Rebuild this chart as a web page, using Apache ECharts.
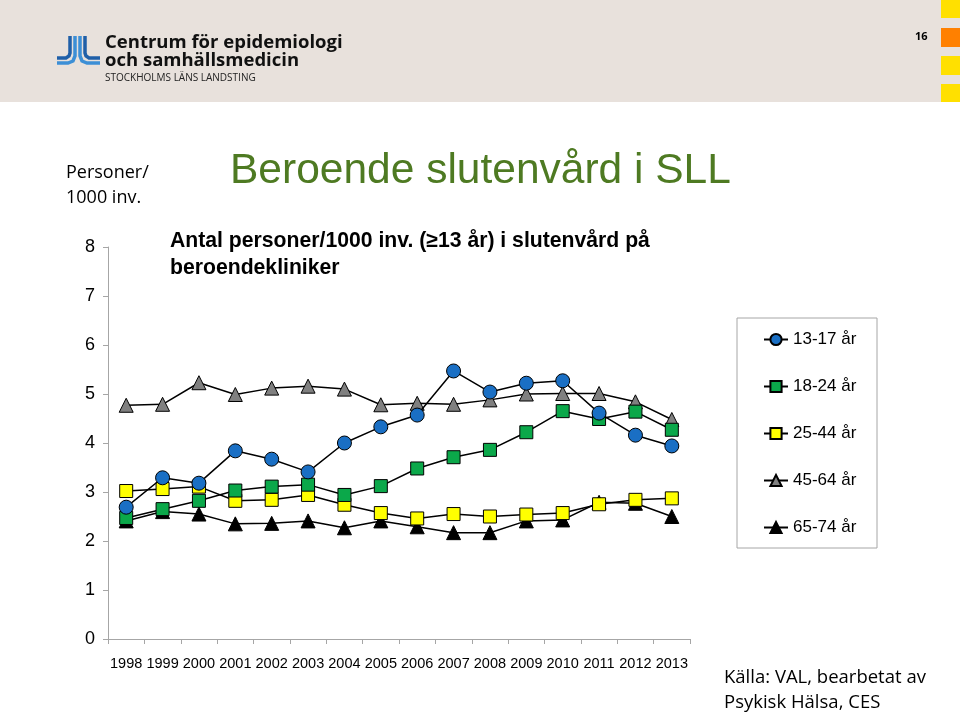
<!DOCTYPE html>
<html><head><meta charset="utf-8">
<script src="https://cdn.jsdelivr.net/npm/echarts@6/dist/echarts.min.js"></script>
<style>html,body{margin:0;padding:0;background:#fff}#c{width:960px;height:714px}</style>
</head><body><div id="c"></div>
<script>
const years = ['1998','1999','2000','2001','2002','2003','2004','2005','2006','2007','2008','2009','2010','2011','2012','2013'];
const seriesNames = ['13-17 år','18-24 år','25-44 år','45-64 år','65-74 år'];
const age13_17 = [2.69,3.29,3.18,3.84,3.67,3.41,4.00,4.33,4.57,5.47,5.04,5.22,5.27,4.61,4.16,3.94];
const age18_24 = [2.47,2.65,2.82,3.03,3.11,3.15,2.94,3.12,3.48,3.71,3.86,4.22,4.65,4.49,4.64,4.27];
const age25_44 = [3.02,3.06,3.11,2.82,2.84,2.94,2.74,2.57,2.46,2.55,2.50,2.54,2.57,2.75,2.84,2.87];
const age45_64 = [4.77,4.79,5.23,4.99,5.12,5.16,5.10,4.78,4.81,4.79,4.88,5.00,5.01,5.01,4.84,4.48];
const age65_74 = [2.41,2.60,2.55,2.35,2.36,2.41,2.27,2.41,2.29,2.17,2.17,2.41,2.43,2.79,2.77,2.50];
const yTicks = [0,1,2,3,4,5,6,7,8];

const chart = echarts.init(document.getElementById('c'), null, {renderer:'canvas'});
const dataSets = [age13_17, age18_24, age25_44, age45_64, age65_74];
const symbols = ['circle','rect','rect','triangle','triangle'];
const sizes = [14,13,13,14,14];
const fills = ['#1A6FC4','#0BA84A','#FFFF00','#808080','#000000'];
const series = dataSets.map((d,i)=>({
  name: seriesNames[i], type:'line', data:d, symbol:symbols[i], symbolSize:sizes[i],
  showAllSymbol:true, z: 10 - i,
  lineStyle:{color:'#000',width:1.5},
  itemStyle:{color:fills[i], borderColor:'#000', borderWidth:1},
  emphasis:{disabled:true}, animation:false
}));

const logoLines = [
  {p:[[70,36],[70,53],[69,56],[66,58],[57,58]], c:'#1F5FA8'},
  {p:[[75,36],[75,56],[73,61],[68,63],[57,63]], c:'#3C8FD6'},
  {p:[[80,36],[80,56],[82,61],[87,63],[100,63]], c:'#3C8FD6'},
  {p:[[85,36],[85,53],[86,56],[89,58],[100,58]], c:'#1F5FA8'}
];

chart.setOption({
  animation:false,
  backgroundColor:'#ffffff',
  grid:{left:108, right:270, top:247, bottom:75, containLabel:false},
  xAxis:{type:'category', data:years, boundaryGap:true,
    axisLine:{lineStyle:{color:'#A6A6A6', width:1}},
    axisTick:{show:true, length:5, lineStyle:{color:'#A6A6A6'}},
    axisLabel:{color:'#000', fontFamily:'Liberation Sans, Arial', fontSize:14.5, margin:17, interval:0}
  },
  yAxis:{type:'value', min:0, max:8, interval:1,
    axisLine:{show:true, lineStyle:{color:'#A6A6A6', width:1}},
    axisTick:{show:true, length:5, lineStyle:{color:'#A6A6A6'}},
    splitLine:{show:false},
    axisLabel:{color:'#000', fontFamily:'Liberation Sans, Arial', fontSize:18, margin:13,
      formatter:(v)=> yTicks.includes(v) ? String(v) : ''}
  },
  legend:{orient:'vertical', left:758, top:326, itemGap:30, itemWidth:24, itemHeight:14,
    data:seriesNames,
    textStyle:{color:'#000', fontSize:17, fontFamily:'Liberation Sans, Arial'},
    selectedMode:false},
  series:series,
  graphic:[
    {type:'rect', shape:{x:0,y:0,width:960,height:102}, style:{fill:'#E8E1DC'}, silent:true, z:-1},
    {type:'rect', shape:{x:941,y:0,width:19,height:18}, style:{fill:'#FFE000'}, silent:true},
    {type:'rect', shape:{x:941,y:28,width:19,height:19}, style:{fill:'#FF8000'}, silent:true},
    {type:'rect', shape:{x:941,y:56,width:19,height:19}, style:{fill:'#FFE000'}, silent:true},
    {type:'rect', shape:{x:941,y:84,width:19,height:18}, style:{fill:'#FFE000'}, silent:true},
    {type:'text', x:915, y:31, style:{text:'16', fill:'#000', font:'bold 11px "Open Sans", sans-serif'}},
    ...logoLines.map(l=>({type:'polyline', shape:{points:l.p}, style:{fill:null, stroke:l.c, lineWidth:3.5}, silent:true})),
    {type:'text', x:105, y:33, style:{text:'Centrum för epidemiologi', fill:'#111', font:'bold 18.5px "Open Sans", sans-serif'}},
    {type:'text', x:105, y:51, style:{text:'och samhällsmedicin', fill:'#111', font:'bold 18.5px "Open Sans", sans-serif'}},
    {type:'text', x:105, y:73, style:{text:'STOCKHOLMS LÄNS LANDSTING', fill:'#222', font:'10px "Open Sans", sans-serif'}},
    {type:'text', x:230, y:150, style:{text:'Beroende slutenvård i SLL', fill:'#4E7A22', font:'42.5px "Liberation Sans", Arial, sans-serif'}},
    {type:'text', x:66, y:160, style:{text:'Personer/\n1000 inv.', fill:'#000', font:'18px "Open Sans", sans-serif', lineHeight:25}},
    {type:'text', x:170, y:228, style:{text:'Antal personer/1000 inv. (≥13 år) i slutenvård på\nberoendekliniker', fill:'#000', font:'bold 21.2px "Liberation Sans", Arial, sans-serif', lineHeight:27}},
    {type:'rect', shape:{x:737,y:318,width:140,height:230}, style:{fill:null, stroke:'#A6A6A6', lineWidth:1}, silent:true},
    {type:'text', x:724, y:665, style:{text:'Källa: VAL, bearbetat av\nPsykisk Hälsa, CES', fill:'#000', font:'18.5px "Open Sans", sans-serif', lineHeight:25}}
  ]
});
</script></body></html>
